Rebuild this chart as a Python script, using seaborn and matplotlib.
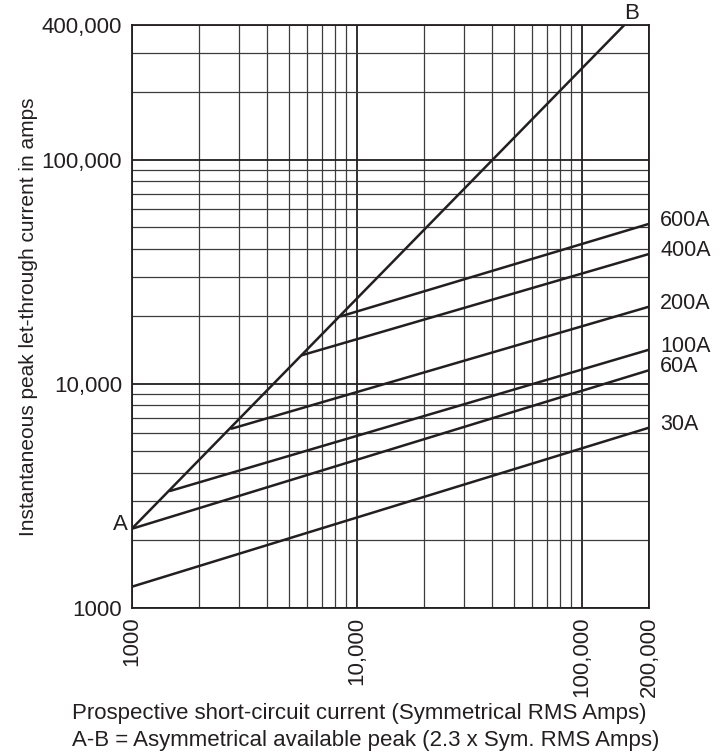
import numpy as np
import pandas as pd
import matplotlib
matplotlib.use("Agg")
import matplotlib.pyplot as plt
import matplotlib.ticker as mticker
import seaborn as sns

# -----------------------------
# data (amps)
# -----------------------------
# A-B = asymmetrical available peak
ab_x = [1000, 155000]
ab_y = [2250, 400000]

# fuse let-through lines: start on A-B, end at the right edge
ratings = ["600A", "400A", "200A", "100A", "60A", "30A"]
start_x = [8500, 5700, 2780, 1480, 1000, 1000]
start_y = [20000, 13400, 6300, 3320, 2250, 1240]
end_x = [200000, 200000, 200000, 200000, 200000, 200000]
end_y = [51800, 38000, 22100, 14200, 11500, 6370]

x_ticks = [1000, 10000, 100000, 200000]
x_tick_labels = ["1000", "10,000", "100,000", "200,000"]
y_ticks = [1000, 10000, 100000, 400000]
y_tick_labels = ["1000", "10,000", "100,000", "400,000"]

# long format table for seaborn
rows = []
for r, sx, sy, ex, ey in zip(ratings, start_x, start_y, end_x, end_y):
    rows.append((r, sx, sy))
    rows.append((r, ex, ey))
fuses = pd.DataFrame(rows, columns=["rating", "x", "y"])

sns.set_style("white")
plt.rcParams["font.family"] = ["Liberation Sans", "DejaVu Sans"]

ink = "#231f20"
fs = 16

fig = plt.figure(figsize=(7.26, 7.52), dpi=100)
ax = fig.add_axes([0.1814, 0.1919, 0.7129, 0.7749])
ax.set_xscale("log")
ax.set_yscale("log")

# -----------------------------
# curves
# -----------------------------
sns.lineplot(x=ab_x, y=ab_y, color=ink, lw=1.8, ax=ax, zorder=3)
sns.lineplot(data=fuses, x="x", y="y", units="rating", estimator=None,
             sort=False, color=ink, lw=1.8, ax=ax, zorder=3)

ax.set_xlim(1000, 200000)
ax.set_ylim(1000, 400000)

# -----------------------------
# ticks / grid
# -----------------------------
ax.xaxis.set_major_locator(mticker.FixedLocator(x_ticks))
ax.xaxis.set_major_formatter(mticker.FixedFormatter(x_tick_labels))
ax.yaxis.set_major_locator(mticker.FixedLocator(y_ticks))
ax.yaxis.set_major_formatter(mticker.FixedFormatter(y_tick_labels))
ax.xaxis.set_minor_locator(mticker.LogLocator(base=10, subs=range(2, 10)))
ax.yaxis.set_minor_locator(mticker.LogLocator(base=10, subs=range(2, 10)))
ax.xaxis.set_minor_formatter(mticker.NullFormatter())
ax.yaxis.set_minor_formatter(mticker.NullFormatter())

ax.tick_params(which="both", length=0, labelsize=fs, labelcolor=ink)
ax.tick_params(axis="y", pad=7)
ax.tick_params(axis="x", pad=6.5, labelrotation=90)

ax.grid(which="major", color=ink, lw=1.3)
ax.grid(which="minor", color="#3c3c3c", lw=0.9)
ax.set_axisbelow(True)

for s in ax.spines.values():
    s.set_visible(True)
    s.set_color(ink)
    s.set_linewidth(1.3)

ax.set_xlabel("")
ax.set_ylabel("")

# -----------------------------
# labels
# -----------------------------
for r, ey in zip(ratings, end_y):
    ax.annotate(r, xy=(1, ey), xycoords=ax.get_yaxis_transform(),
                xytext=(8, 2.5), textcoords="offset points",
                ha="left", va="center", fontsize=15.5, color=ink)

ax.annotate("A", xy=(ab_x[0], ab_y[0]), xytext=(-3, 3), textcoords="offset points",
            ha="right", va="center", fontsize=fs, color=ink, annotation_clip=False)
ax.annotate("B", xy=(ab_x[1], ab_y[1]), xytext=(5, 8), textcoords="offset points",
            ha="center", va="center", fontsize=fs, color=ink, annotation_clip=False)

fig.text(0.0386, 0.579, "Instantaneous peak let-through current in amps",
         rotation=90, ha="center", va="center", fontsize=15, color=ink)
fig.text(71.7 / 726, 1 - 714 / 752,
         "Prospective short-circuit current (Symmetrical RMS Amps)",
         ha="left", va="center", fontsize=fs, color=ink)
fig.text(71.7 / 726, 1 - 740.7 / 752,
         "A-B = Asymmetrical available peak (2.3 x Sym. RMS Amps)",
         ha="left", va="center", fontsize=fs, color=ink)

fig.savefig("out.png", dpi=100)
